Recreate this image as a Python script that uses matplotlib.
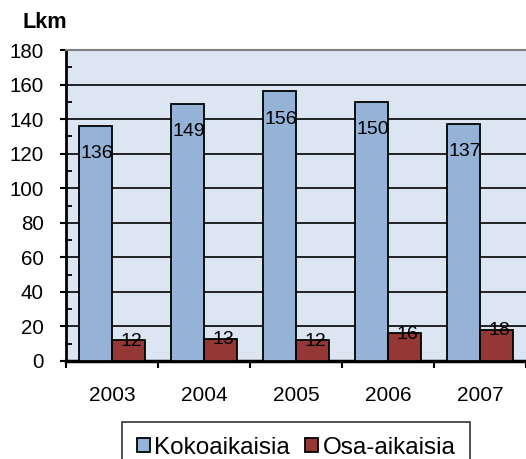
import matplotlib
matplotlib.use("Agg")
import matplotlib.pyplot as plt
import numpy as np

years = ["2003", "2004", "2005", "2006", "2007"]
kokoaikaisia = [136, 149, 156, 150, 137]
osa_aikaisia = [12, 13, 12, 16, 18]
series_names = ["Kokoaikaisia", "Osa-aikaisia"]

plt.rcParams['font.family'] = ['Liberation Sans', 'DejaVu Sans']

W, H = 526, 459
fig = plt.figure(figsize=(W/100, H/100), dpi=100)
ax = fig.add_axes([66/W, (H-361)/H, 1-66/W, (361-50)/H])
ax.set_facecolor('#DCE6F2')

x = np.arange(len(years))
w = 0.36
b1 = ax.bar(x - w/2, kokoaikaisia, w, color='#95B3D7', edgecolor='black', linewidth=1.3, zorder=3, label=series_names[0])
b2 = ax.bar(x + w/2, osa_aikaisia, w, color='#953735', edgecolor='black', linewidth=1.3, zorder=3, label=series_names[1])

for xi, v in zip(x, kokoaikaisia):
    ax.text(xi - w/2 + 0.01, v - 16, str(v), ha='center', va='center', fontsize=14, zorder=4)
for xi, v in zip(x, osa_aikaisia):
    ax.text(xi + w/2 + 0.03, v - 0.5, str(v), ha='center', va='center', fontsize=14, zorder=4)

ax.set_xlim(-0.5, 4.5)
ax.set_ylim(0, 180)
ax.set_yticks(np.arange(0, 181, 20))
ax.set_yticks(np.arange(0, 181, 10), minor=True)
for yv in range(20, 180, 20):
    ax.axhline(yv, color='black', linewidth=1.2, zorder=1)

ax.set_xticks(x)
ax.set_xticklabels(years, fontsize=15)
ax.set_xticks(np.arange(-0.5, 4.6, 1.0), minor=True)
ax.tick_params(axis='x', which='major', length=0, pad=18)
ax.tick_params(axis='x', which='minor', direction='out', length=5, width=1.5)
ax.tick_params(axis='y', which='major', direction='out', length=4, width=1.5, pad=12, labelsize=14.8)
ax.tick_params(axis='y', which='minor', direction='in', length=4, width=1.3)

ax.spines['right'].set_visible(False)
ax.spines['top'].set_color('#808080')
ax.spines['top'].set_linewidth(1.5)
ax.spines['left'].set_linewidth(2)
ax.spines['bottom'].set_linewidth(2.5)

fig.text(45/W, 1-23/H, "Lkm", ha='center', va='center', fontsize=15.6, fontweight='bold')

leg = fig.legend(handles=[b1, b2], loc='upper center', bbox_to_anchor=(296/W, 1-422/H),
                 ncol=2, fontsize=17.5, frameon=True, fancybox=False, shadow=False,
                 handlelength=0.53, handleheight=0.53, handletextpad=0.2, columnspacing=0.6,
                 borderpad=0.6, borderaxespad=0)
leg.get_frame().set_edgecolor('black')
leg.get_frame().set_linewidth(1.2)

fig.savefig("out.png", dpi=100)
